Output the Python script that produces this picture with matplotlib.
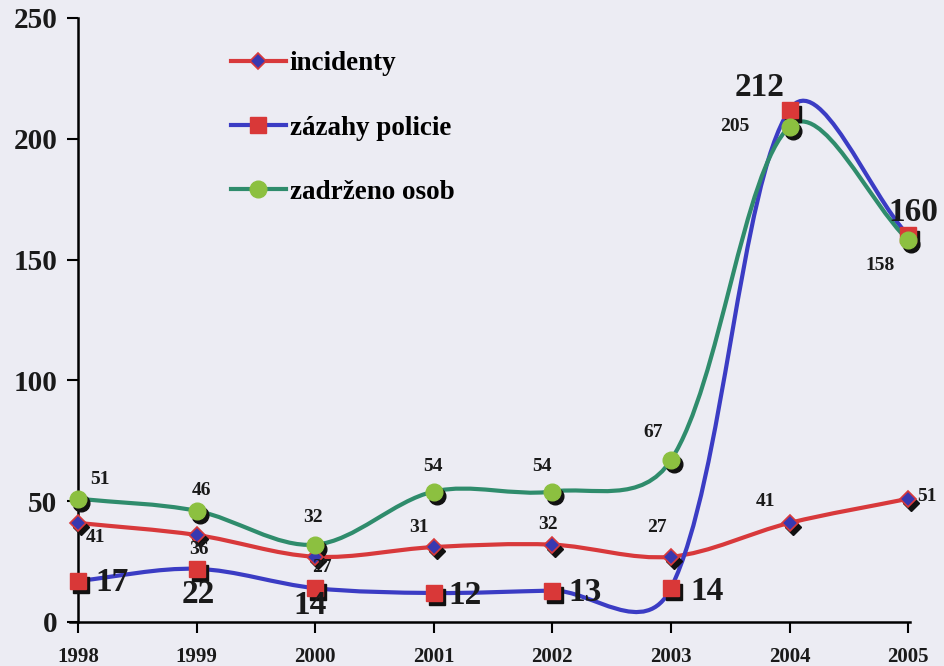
import numpy as np
import matplotlib.pyplot as plt
from matplotlib.path import Path
from matplotlib.patches import PathPatch
from matplotlib.lines import Line2D
from matplotlib import transforms

plt.rcParams['font.family'] = ['Liberation Serif', 'DejaVu Serif']
plt.rcParams['font.weight'] = 'bold'

roky = [1998, 1999, 2000, 2001, 2002, 2003, 2004, 2005]
incidenty = [41, 36, 27, 31, 32, 27, 41, 51]
zasahy = [17, 22, 14, 12, 13, 14, 212, 160]
zadrzeno = [51, 46, 32, 54, 54, 67, 205, 158]

nazvy = ['incidenty', 'zázahy policie', 'zadrženo osob']


def vyhlazena_cesta(ax, xs, ys):
    # bezierova krivka podobna vyhlazene care v Excelu,
    # tecny vazene odmocninou delky useku na obrazovce
    body = np.column_stack([xs, ys]).astype(float)
    px = ax.transData.transform(body)
    n = len(body)
    verts = [tuple(body[0])]
    codes = [Path.MOVETO]
    for i in range(n - 1):
        i0 = max(i - 1, 0)
        i3 = min(i + 2, n - 1)
        p0, p1, p2, p3 = body[i0], body[i], body[i + 1], body[i3]
        d01 = np.sqrt(np.hypot(*(px[i] - px[i0])))
        d12 = np.sqrt(np.hypot(*(px[i + 1] - px[i])))
        d23 = np.sqrt(np.hypot(*(px[i3] - px[i + 1])))
        f1 = d12 / (d01 + d12) / 3
        f2 = d12 / (d12 + d23) / 3
        c1 = p1 + (p2 - p0) * f1
        c2 = p2 - (p3 - p1) * f2
        verts += [tuple(c1), tuple(c2), tuple(p2)]
        codes += [Path.CURVE4] * 3
    return Path(verts, codes)


bg = '#ececf3'
fig = plt.figure(figsize=(9.45, 6.66), dpi=100, facecolor=bg)
ax = fig.add_axes([0.0741, 0.0661, 0.889, 0.907], facecolor=bg)

ax.set_xlim(1998 - 8 / 118.57, 2005 + 2 / 118.57)
ax.set_ylim(0, 250)

c_red = '#d8393b'
c_blue = '#3b3cc4'
c_green = '#2f8c6c'

serie = [
    (incidenty, c_red, dict(marker='D', ms=8.5, mfc='#3838b0', mec=c_red, mew=1.2)),
    (zasahy, c_blue, dict(marker='s', ms=11.5, mfc='#d93838', mec='#d93838', mew=1)),
    (zadrzeno, c_green, dict(marker='o', ms=12, mfc='#8cc040', mec='#8cc040', mew=1)),
]

stin = transforms.offset_copy(ax.transData, fig, x=3, y=-4, units='dots')

for hodnoty, barva, styl in serie:
    ax.add_patch(PathPatch(vyhlazena_cesta(ax, roky, hodnoty), fill=False,
                           edgecolor=barva, lw=3.0, capstyle='round', zorder=2))
for hodnoty, barva, styl in serie:
    ax.plot(roky, hodnoty, linestyle='none', marker=styl['marker'], ms=styl['ms'],
            color='#111111', transform=stin, zorder=3, clip_on=False)
    ax.plot(roky, hodnoty, linestyle='none', zorder=4, clip_on=False, **styl)

# popisky hodnot (posun v pixelech)
pos_inc = [(17, -15), (2, -15), (7, -11), (-15, 20), (-4, 20), (-14, 29), (-24, 21), (19, 2)]
pos_zas = [(34, -2), (2, -26), (-5, -17), (31, -3), (33, -2), (36, -3), (-30, 22), (5, 23)]
pos_zad = [(22, 19), (5, 20), (-2, 27), (-1, 25), (-10, 25), (-18, 28), (-55, 0), (-28, -25)]

for hodnoty, posuny, vel in [(incidenty, pos_inc, 14), (zasahy, pos_zas, 24), (zadrzeno, pos_zad, 14)]:
    for x, y, d in zip(roky, hodnoty, posuny):
        ax.annotate(str(y), (x, y), xytext=d, textcoords='offset pixels',
                    ha='center', va='center', fontsize=vel, fontweight='bold',
                    color='#1a1a1a', zorder=6)

ax.set_xticks(roky)
ax.set_xticklabels([str(r) for r in roky])
ax.set_yticks([0, 50, 100, 150, 200, 250])

for s in ['top', 'right']:
    ax.spines[s].set_visible(False)
ax.spines['left'].set_position(('data', 1998))
ax.spines['left'].set_linewidth(1.8)
ax.spines['bottom'].set_linewidth(1.8)
ax.tick_params(axis='x', direction='out', length=8, width=1.5, labelsize=15, pad=10)
ax.tick_params(axis='y', direction='out', length=8, width=1.5, labelsize=21, pad=7)
for t in ax.get_xticklabels() + ax.get_yticklabels():
    t.set_fontweight('bold')
    t.set_color('#1a1a1a')

ruky = [Line2D([0], [0], color=b, lw=3.0, **st) for _, b, st in serie]
leg = ax.legend(ruky, nazvy, loc='upper left', bbox_to_anchor=(0.163, 0.985),
                frameon=False, handlelength=2.0, handletextpad=0.15,
                labelspacing=1.45, prop={'size': 19.5, 'weight': 'bold'})

fig.savefig('out.png', dpi=100, facecolor=bg)
